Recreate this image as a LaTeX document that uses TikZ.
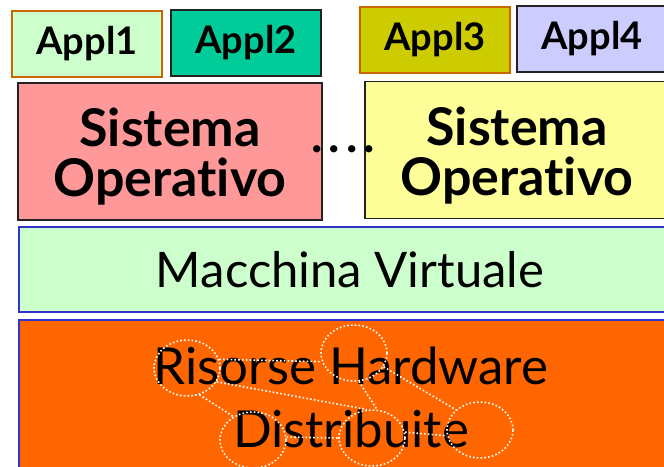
\documentclass[tikz,border=0pt]{standalone}
\usepackage{fontspec}
\setmainfont{Lato}[Ligatures=NoCommon]
\usetikzlibrary{shapes.geometric}
\definecolor{applgreen}{HTML}{CCFFCC}
\definecolor{appljade}{HTML}{00CC99}
\definecolor{applolive}{HTML}{CCCC00}
\definecolor{appllilac}{HTML}{CCCCFF}
\definecolor{osred}{HTML}{FF9999}
\definecolor{osyellow}{HTML}{FFFF99}
\definecolor{vmgreen}{HTML}{CCFFCC}
\definecolor{hworange}{HTML}{FF6600}
\definecolor{rimorange}{HTML}{CC6600}
\definecolor{rimdark}{HTML}{222222}
\definecolor{rimblue}{HTML}{3333CC}
\tikzset{
  layer/.style={draw, line width=1.6pt, inner sep=0pt, outer sep=0pt},
  applbox/.style={layer, minimum width=150pt, minimum height=66pt,
    font=\fontsize{38}{40}\selectfont\bfseries},
  osbox/.style={layer, draw=rimdark, minimum width=304pt, minimum height=137pt},
  ostext/.style={align=center, font=\fontsize{52}{50}\selectfont\bfseries},
  hub/.style={ellipse, draw=white, line width=1.6pt, dash pattern=on 1.6pt off 2.2pt,
    minimum width=66pt, minimum height=56pt, inner sep=0pt},
  link/.style={draw=white, line width=1.6pt, dash pattern=on 1.6pt off 2.2pt}
}
\begin{document}
\begin{tikzpicture}[x=1pt, y=-1pt]
\useasboundingbox (0,0) rectangle (664,466);
\fill[white] (0,0) rectangle (664,466);

% applications
\node[applbox, draw=rimorange, fill=applgreen] (a1) at (87,44) {Appl1};
\node[applbox, draw=rimdark, fill=appljade] (a2) at (246,43) {Appl2};
\node[applbox, draw=rimorange, fill=applolive] (a3) at (435,40) {Appl3};
\node[applbox, draw=rimdark, fill=appllilac] (a4) at (592,39) {Appl4};

% operating systems
\node[osbox, fill=osred] (os1) at (170,151.5) {};
\node[ostext] (os1t) at (170,157) {Sistema\\Operativo};
\node[osbox, fill=osyellow] (os2) at (517,150) {};
\node[ostext] (os2t) at (517,156) {Sistema\\Operativo};
\node[font=\fontsize{48}{50}\selectfont\bfseries, inner sep=0pt] (dots) at (343,149)
  {.\kern6pt.\kern6pt.\kern6pt.};

% virtual machine layer
\node[layer, draw=rimblue, fill=vmgreen, minimum width=662pt, minimum height=85pt]
  (vm) at (350,269.5) {};
\node[font=\fontsize{49}{50}\selectfont] (vmt) at (350,270) {Macchina Virtuale};

% distributed hardware layer
\node[layer, draw=rimblue, fill=hworange, minimum width=662pt, minimum height=200pt]
  (hw) at (350,420) {};
\node[align=center, font=\fontsize{51}{63}\selectfont] (hwt) at (351,397)
  {Risorse Hardware\\Distribuite};

% network of resources
\node[hub] (c1) at (187,368) {};
\node[hub] (c2) at (354,353) {};
\node[hub] (c3) at (253,440) {};
\node[hub] (c4) at (372,438) {};
\node[hub] (c5) at (480,430) {};
\draw[link] (c1.15) -- (c2.195);
\draw[link] (c1.-25) -- (c4.100);
\draw[link] (c1.-65) -- (c3.130);
\draw[link] (c2.-80) -- (c4.80);
\draw[link] (c2.-25) -- (c5.140);
\draw[link] (c3.5) -- (c4.180);
\draw[link] (c4.10) -- (c5.190);
\end{tikzpicture}
\end{document}
